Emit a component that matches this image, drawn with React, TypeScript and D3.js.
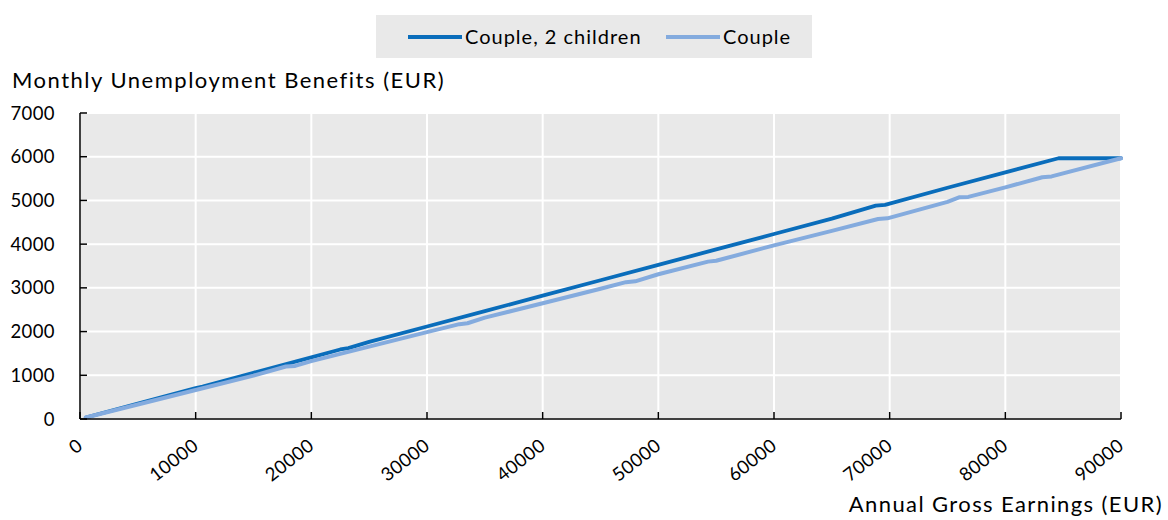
import { useEffect } from "react";
import * as d3 from "d3";

// annual gross earnings (EUR) -> monthly unemployment benefits (EUR)
const earningsKids = [500, 5000, 10000, 10600, 15000, 20000, 22500, 23200, 25000, 30000, 35000, 40000, 45000, 50000, 55000, 60000, 65000, 68800, 69600, 75000, 80000, 84600, 90000];
const benefitsKids = [35, 352, 705, 740, 1058, 1410, 1590, 1620, 1763, 2116, 2468, 2821, 3174, 3526, 3879, 4232, 4584, 4880, 4900, 5290, 5642, 5965, 5965];

const earningsCouple = [500, 5000, 10000, 15000, 17800, 18600, 20000, 25000, 30000, 32800, 33500, 35000, 40000, 45000, 47200, 48000, 50000, 54300, 55000, 60000, 65000, 69000, 69800, 75000, 76000, 76800, 80000, 83200, 84000, 90000];
const benefitsCouple = [33, 331, 662, 993, 1200, 1215, 1324, 1656, 1987, 2170, 2190, 2318, 2649, 2980, 3130, 3150, 3311, 3600, 3620, 3973, 4304, 4575, 4590, 4967, 5070, 5080, 5298, 5530, 5550, 5965];

const seriesNames = ["Couple, 2 children", "Couple"];
const seriesColors = ["#0a6dbb", "#84abde"];

const xTicks = [0, 10000, 20000, 30000, 40000, 50000, 60000, 70000, 80000, 90000];
const yTicks = [0, 1000, 2000, 3000, 4000, 5000, 6000, 7000];

const width = 1168;
const height = 520;
const marginLeft = 80;
const marginRight = 47;
const marginTop = 113;
const marginBottom = 101;
const font = "Lato, 'Open Sans', sans-serif";

export default function App() {
  useEffect(() => {
    document.body.style.margin = "0";
  }, []);

  const x = d3.scaleLinear().domain([0, 90000]).range([marginLeft, width - marginRight]);
  const y = d3.scaleLinear().domain([0, 7000]).range([height - marginBottom, marginTop]);

  const line = d3.line<[number, number]>()
    .x(d => x(d[0]))
    .y(d => y(d[1]));

  const kids = earningsKids.map((e, i) => [e, benefitsKids[i]] as [number, number]);
  const couple = earningsCouple.map((e, i) => [e, benefitsCouple[i]] as [number, number]);
  const series = [kids, couple];

  const x0 = x(0), x1 = x(90000), y0 = y(0), y1 = y(7000);

  return (
    <svg width={width} height={height} style={{ display: "block", background: "#fff" }} fontFamily={font}>
      {/* legend */}
      <rect x={376} y={15} width={436} height={43} fill="#e9e9e9" />
      {seriesNames.map((name, i) => {
        const lx = i === 0 ? 408 : 666;
        return (
          <g key={name}>
            <line x1={lx} x2={lx + 54} y1={37} y2={37} stroke={seriesColors[i]} strokeWidth={3.8} />
            <text x={lx + 57} y={44} fontSize={20} letterSpacing={1} fill="#000">{name}</text>
          </g>
        );
      })}

      {/* plot background */}
      <rect x={x0} y={y1} width={x1 - x0} height={y0 - y1} fill="#e9e9e9" />
      {yTicks.map(t => (
        <line key={"gy" + t} x1={x0} x2={x1} y1={y(t)} y2={y(t)} stroke="#fff" strokeWidth={2} />
      ))}
      {xTicks.map(t => (
        <line key={"gx" + t} x1={x(t)} x2={x(t)} y1={y0} y2={y1} stroke="#fff" strokeWidth={2} />
      ))}

      {/* series */}
      {series.map((s, i) => (
        <path key={seriesNames[i]} d={line(s) || ""} fill="none" stroke={seriesColors[i]}
          strokeWidth={i === 0 ? 3.8 : 4} strokeLinejoin="round" strokeLinecap="round" />
      ))}

      {/* axes */}
      <line x1={x0} x2={x0} y1={y1} y2={y0} stroke="#000" strokeWidth={1.5} />
      <line x1={x0} x2={x1} y1={y0} y2={y0} stroke="#000" strokeWidth={1.5} />
      {yTicks.map(t => (
        <g key={"ty" + t}>
          <line x1={x0} x2={x0 + 7} y1={y(t)} y2={y(t)} stroke="#000" strokeWidth={1.5} />
          <text x={55} y={y(t) + 6.5} textAnchor="end" fontSize={18.5} letterSpacing={0.4} fill="#000">{t}</text>
        </g>
      ))}
      {xTicks.map(t => (
        <g key={"tx" + t}>
          <line x1={x(t)} x2={x(t)} y1={y0} y2={y0 - 7} stroke="#000" strokeWidth={1.5} />
          <text transform={`translate(${x(t) + 4},${y0 + 29}) rotate(-38)`} textAnchor="end"
            fontSize={18.5} letterSpacing={0.4} fill="#000">{t}</text>
        </g>
      ))}

      {/* axis titles */}
      <text x={12} y={88} fontSize={22} letterSpacing={1.5} fill="#000">Monthly Unemployment Benefits (EUR)</text>
      <text x={1163} y={512} textAnchor="end" fontSize={22} letterSpacing={1.4} fill="#000">Annual Gross Earnings (EUR)</text>
    </svg>
  );
}
